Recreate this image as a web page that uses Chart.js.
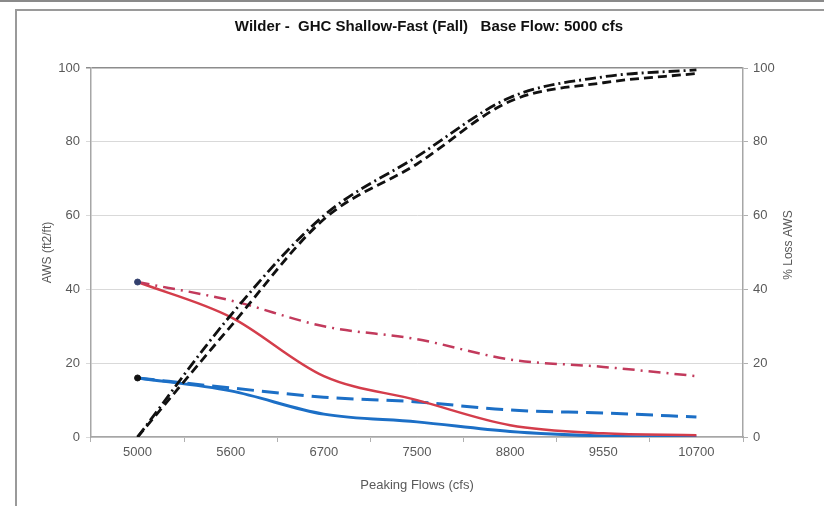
<!DOCTYPE html>
<html>
<head>
<meta charset="utf-8">
<script src="https://cdn.jsdelivr.net/npm/chart.js@4.4.1/dist/chart.umd.min.js"></script>
<style>
  body { margin: 0; background: #fff; }
  #wrap { position: relative; width: 824px; height: 506px; overflow: hidden; }
  #topline { position: absolute; left: 0; top: 0; width: 824px; height: 2px; background: #8a8a8a; }
  #frame { position: absolute; left: 15px; top: 9px; width: 900px; height: 600px;
           border-left: 2px solid #9a9a9a; border-top: 2px solid #9a9a9a; }
  canvas { position: absolute; left: 0; top: 0; }
</style>
</head>
<body>
<div id="wrap">
  <div id="topline"></div>
  <div id="frame"></div>
  <canvas id="grafica" width="824" height="506"></canvas>
</div>
<script>
// categorias del eje x (caudales pico)
var categorias = ['5000', '5600', '6700', '7500', '8800', '9550', '10700'];

// AWS (ft2/ft), eje izquierdo
var awsRojoSolido = [42, 32.5, 16.5, 10, 3.2, 1, 0.5];
var awsRojoPunteado = [42, 37, 30, 26.5, 21, 19, 16.5];
var awsAzulSolido = [16, 12.5, 6.2, 4.1, 1.5, 0.3, 0];
var awsAzulPunteado = [16, 13.3, 10.8, 9.5, 7.3, 6.5, 5.4];

// % perdida AWS, eje derecho
var perdidaGuiones = [0, 30, 59, 74, 91, 96, 98.5];
var perdidaGuionPunto = [0, 33, 60, 76, 92, 97.6, 99.5];

var ticksY = [0, 20, 40, 60, 80, 100];

var fuente = "'Liberation Sans', Arial, sans-serif";
var gris = '#595959';

// titulo del eje derecho, leido de abajo hacia arriba como en el original
var tituloDerecho = {
    id: 'tituloDerecho',
    afterDraw: function(chart) {
        var ctx = chart.ctx;
        ctx.save();
        ctx.translate(789, 245);
        ctx.rotate(-Math.PI / 2);
        ctx.font = '12px ' + fuente;
        ctx.fillStyle = gris;
        ctx.textAlign = 'center';
        ctx.textBaseline = 'middle';
        ctx.fillText('% Loss AWS', 0, 0);
        ctx.restore();
    }
};

// solo el primer punto lleva marcador
function marcador() {
    return categorias.map(function(c, i) { return i === 0 ? 3 : 0; });
}

var ctx = document.getElementById('grafica').getContext('2d');
var miGrafico = new Chart(ctx, {
    type: 'line',
    data: {
        labels: categorias,
        datasets: [
            {
                data: perdidaGuionPunto, yAxisID: 'y2',
                borderColor: '#111', borderWidth: 2.8, borderDash: [11, 4, 2, 4],
                pointRadius: 0
            },
            {
                data: perdidaGuiones, yAxisID: 'y2',
                borderColor: '#111', borderWidth: 2.8, borderDash: [9, 5],
                pointRadius: 0
            },
            {
                data: awsRojoPunteado, yAxisID: 'y',
                borderColor: '#c23a5c', borderWidth: 2.5, borderDash: [12, 6, 2, 6],
                pointRadius: marcador(), pointBorderWidth: 1,
                pointBackgroundColor: '#33406e', pointBorderColor: '#33406e'
            },
            {
                data: awsRojoSolido, yAxisID: 'y',
                borderColor: '#d43d4b', borderWidth: 2.5,
                pointRadius: 0
            },
            {
                data: awsAzulPunteado, yAxisID: 'y',
                borderColor: '#1c6fc6', borderWidth: 3, borderDash: [17, 8],
                pointRadius: marcador(), pointBorderWidth: 1,
                pointBackgroundColor: '#111', pointBorderColor: '#111'
            },
            {
                data: awsAzulSolido, yAxisID: 'y',
                borderColor: '#1c6fc6', borderWidth: 3,
                pointRadius: 0
            }
        ]
    },
    options: {
        responsive: false,
        animation: false,
        cubicInterpolationMode: 'monotone',
        layout: { padding: { left: 34, right: 0, top: 0, bottom: 0 } },
        plugins: {
            legend: { display: false },
            tooltip: { enabled: false },
            title: {
                display: true,
                text: 'Wilder -  GHC Shallow-Fast (Fall)   Base Flow: 5000 cfs',
                color: '#111',
                font: { family: fuente, size: 15, weight: 'bold' },
                padding: { top: 18, bottom: 32 }
            }
        },
        scales: {
            x: {
                offset: true,
                grid: { offset: true, drawOnChartArea: false, tickLength: 5, color: '#b0b0b0' },
                border: { color: '#a6a6a6', width: 1.5 },
                ticks: { color: gris, font: { family: fuente, size: 13 }, padding: 3, maxRotation: 0 },
                title: { display: true, text: 'Peaking Flows (cfs)', color: gris,
                         font: { family: fuente, size: 13 }, padding: { top: 0, bottom: 13 } },
                afterFit: function(s) { s.height = 69; }
            },
            y: {
                position: 'left', min: 0, max: 100,
                afterBuildTicks: function(s) { s.ticks = ticksY.map(function(v) { return { value: v }; }); },
                grid: {
                    color: function(c) { return c.tick && c.tick.value === 100 ? '#8c8c8c' : '#d9d9d9'; },
                    lineWidth: function(c) { return c.tick && c.tick.value === 100 ? 1.5 : 1; },
                    tickLength: 5
                },
                border: { color: '#a6a6a6', width: 1.5 },
                ticks: { color: gris, font: { family: fuente, size: 13 }, padding: 6 },
                title: { display: true, text: 'AWS (ft2/ft)', color: gris,
                         font: { family: fuente, size: 12 }, padding: { top: 6, bottom: 0 } },
                afterFit: function(s) { s.width = 57; }
            },
            y2: {
                position: 'right', min: 0, max: 100,
                afterBuildTicks: function(s) { s.ticks = ticksY.map(function(v) { return { value: v }; }); },
                grid: { drawOnChartArea: false, tickLength: 5, color: '#b0b0b0' },
                border: { color: '#a6a6a6', width: 1.5 },
                ticks: { color: gris, font: { family: fuente, size: 13 }, padding: 5 },
                afterFit: function(s) { s.width = 81; }
            }
        }
    },
    plugins: [tituloDerecho]
});
</script>
</body>
</html>
